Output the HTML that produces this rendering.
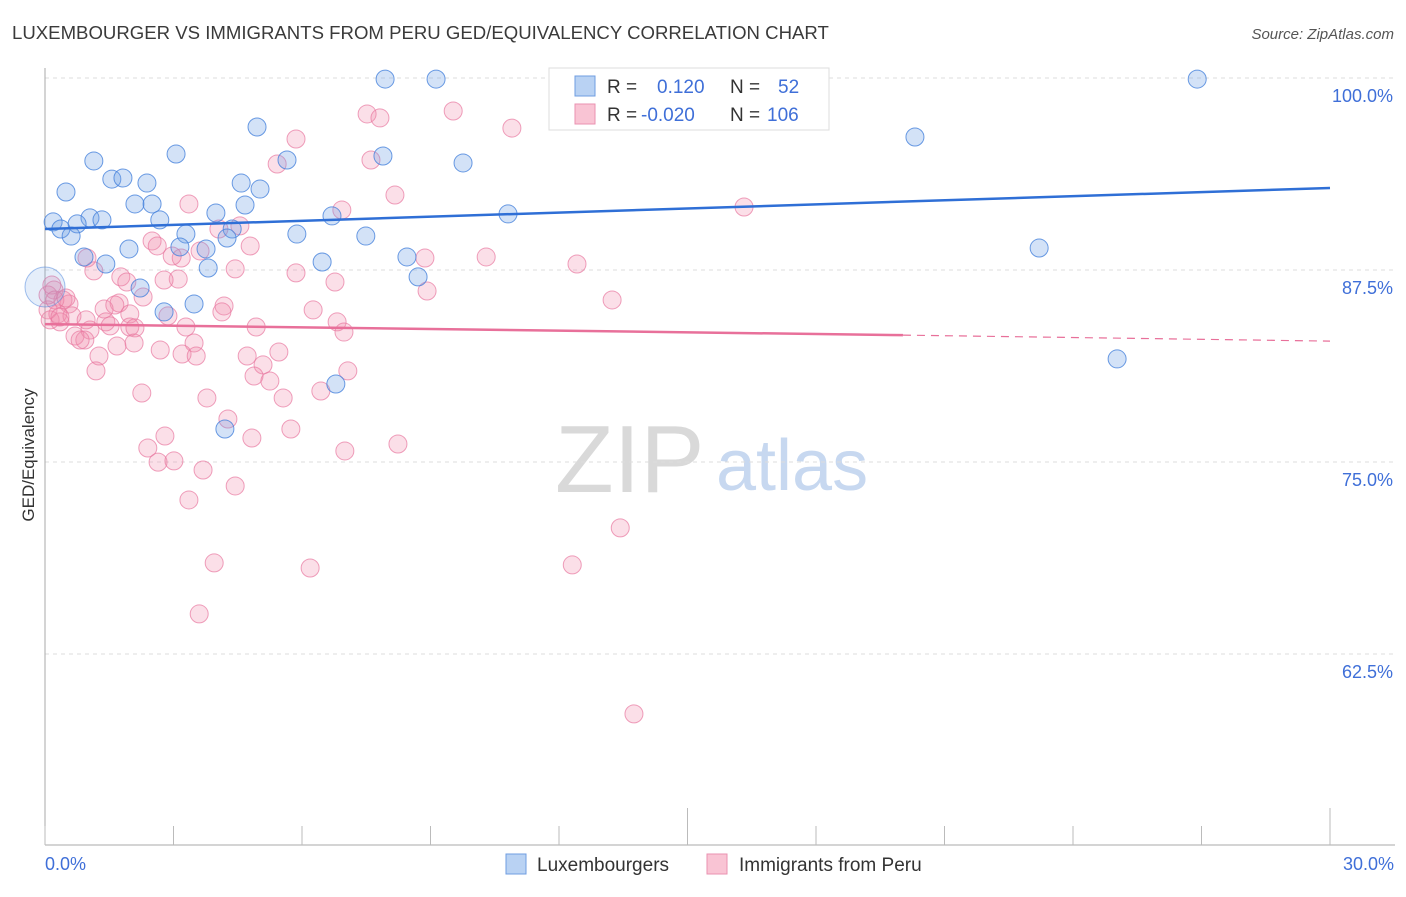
<!DOCTYPE html>
<html><head><meta charset="utf-8"><style>
body{margin:0;background:#fff;font-family:"Liberation Sans",sans-serif;}
svg text{font-family:"Liberation Sans",sans-serif;}
</style></head><body>
<svg id="chart" width="1406" height="892" xmlns="http://www.w3.org/2000/svg">
<text x="12" y="39" font-size="18.6" fill="#3a3a3a">LUXEMBOURGER VS IMMIGRANTS FROM PERU GED/EQUIVALENCY CORRELATION CHART</text>
<text x="1394" y="39" font-size="15" fill="#555" font-style="italic" text-anchor="end">Source: ZipAtlas.com</text>
<g>
<text x="555" y="492" font-size="96" fill="#d9d9d9" font-family="Liberation Serif, serif">ZIP</text>
<text x="716" y="490" font-size="72" fill="#c7d8f0">atlas</text>
</g>
<g id="grid"></g>
<g id="axes"></g>
<g id="pts"></g>
<g id="trends"></g>
<text transform="translate(34,455) rotate(-90)" font-size="17" fill="#333" text-anchor="middle">GED/Equivalency</text>
<g>
<rect x="549" y="68" width="280" height="62" fill="#fff" stroke="#ddd"/>
<rect x="575" y="76" width="20" height="20" fill="#b9d2f3" stroke="#6f9de0"/>
<rect x="575" y="104" width="20" height="20" fill="#f9c4d4" stroke="#ea92b0"/>
<text x="607" y="93" font-size="19" fill="#333">R =</text>
<text x="657" y="93" font-size="19" fill="#3f6fd8">0.120</text>
<text x="730" y="93" font-size="19" fill="#333">N =</text>
<text x="778" y="93" font-size="19" fill="#3f6fd8">52</text>
<text x="607" y="121" font-size="19" fill="#333">R =</text>
<text x="641" y="121" font-size="19" fill="#3f6fd8">-0.020</text>
<text x="730" y="121" font-size="19" fill="#333">N =</text>
<text x="767" y="121" font-size="19" fill="#3f6fd8">106</text>
</g>
<g>
<rect x="506" y="854" width="20" height="20" fill="#b9d2f3" stroke="#6f9de0"/>
<text x="537" y="871" font-size="19" fill="#333">Luxembourgers</text>
<rect x="707" y="854" width="20" height="20" fill="#f9c4d4" stroke="#ea92b0"/>
<text x="739" y="871" font-size="19" fill="#333">Immigrants from Peru</text>
</g>
</svg>
<script>
const yTicks=[100,87.5,75,62.5];
const yTickLabels=["100.0%","87.5%","75.0%","62.5%"];
const xTickValues=[0,3,6,9,12,15,18,21,24,27,30];
const xLabels=["0.0%","30.0%"];
const luxX=[7.94,9.13,26.90,4.95,20.31,3.06,1.14,5.65,7.89,9.76,1.56,1.82,2.38,4.58,0.49,5.02,2.10,2.50,4.67,3.99,0.19,1.05,1.33,2.68,6.70,10.81,0.37,0.75,0.61,3.29,4.37,5.88,4.25,7.49,1.96,3.15,3.76,23.21,0.91,1.42,6.47,8.45,3.81,8.71,0,2.22,3.48,2.78,25.03,6.79,4.20];
const luxY=[99.93,99.93,99.93,96.81,96.16,95.05,94.60,94.66,94.92,94.47,93.42,93.49,93.16,93.16,92.58,92.77,91.80,91.80,91.73,91.21,90.63,90.89,90.76,90.76,91.02,91.15,90.17,90.50,89.71,89.84,90.17,89.84,89.58,89.71,88.87,89.0,88.87,88.93,88.35,87.89,88.02,88.35,87.63,87.05,86.39,86.33,85.29,84.77,81.71,80.08,77.15];
const peruX=[9.53,7.52,7.82,10.90,5.86,5.42,7.61,8.17,3.36,6.93,16.32,4.55,4.06,2.50,2.62,4.79,3.62,0.98,3.18,2.97,8.87,10.30,12.42,1.14,4.44,5.86,1.77,1.91,3.11,2.78,6.77,8.92,13.24,0.21,0.42,0.56,2.29,1.73,4.18,4.13,6.26,0.07,0.30,0.63,1.38,1.98,2.87,0.12,0.35,0.96,1.42,1.52,1.98,2.10,4.93,6.82,6.98,0.70,1.05,3.29,0.93,1.68,2.08,3.48,1.26,3.20,3.53,4.72,5.46,5.09,1.19,4.88,5.25,7.07,2.26,3.78,5.56,6.44,4.27,2.80,5.74,4.83,2.40,7.00,8.24,2.64,3.01,3.69,4.44,3.36,13.43,3.95,6.19,12.31,3.60,13.75,0.07,0.16,0.23,0.35,0.49,0.82,1.63,2.69];
const peruY=[97.85,97.66,97.40,96.74,96.03,94.40,94.66,92.38,91.80,91.41,91.60,90.37,90.17,89.39,89.06,89.06,88.74,88.28,88.28,88.41,88.28,88.35,87.89,87.44,87.57,87.31,87.05,86.72,86.91,86.85,86.72,86.13,85.55,86.20,85.55,85.29,85.74,85.35,85.16,84.77,84.90,84.90,84.64,84.51,84.96,84.64,84.51,84.25,84.12,84.25,84.12,83.86,83.79,83.73,83.79,84.12,83.46,83.20,83.59,83.79,82.94,82.55,82.75,82.75,81.90,82.03,81.90,81.90,82.16,81.32,80.93,80.60,80.27,80.93,79.49,79.17,79.17,79.62,77.80,76.69,77.15,76.56,75.91,75.72,76.17,74.99,75.07,74.48,73.44,72.53,70.71,68.43,68.10,68.30,65.11,58.60,85.87,86.52,85.55,84.44,85.68,82.94,85.22,82.29];
const luxTrend=[[0,90.17],[30,92.84]];
const peruTrendSolid=[[0,83.98],[20.03,83.26]];
const peruTrendDash=[[20.03,83.26],[30,82.87]];

const NS="http://www.w3.org/2000/svg";
function X(v){return 45+v/30*1285;}
function Y(v){return 78+(100-v)*15.36;}
function mk(tag,attrs,parent){const e=document.createElementNS(NS,tag);for(const k in attrs)e.setAttribute(k,attrs[k]);parent.appendChild(e);return e;}
const grid=document.getElementById('grid'),axes=document.getElementById('axes'),pts=document.getElementById('pts'),tr=document.getElementById('trends');
yTicks.forEach((t,i)=>{
  const l=mk('line',{x1:45,x2:1395,y1:Y(t),y2:Y(t),stroke:'#ddd','stroke-dasharray':'4,4'},grid);
  
  
  const tx=mk('text',{x:1393,y:Y(t)+24,'font-size':18,fill:'#3f6fd8','text-anchor':'end'},grid);
  tx.textContent=yTickLabels[i];
  
  
});
let a=mk('line',{x1:45,x2:45,y1:68,y2:845,stroke:'#aaa'},axes);


a=mk('line',{x1:45,x2:1395,y1:845,y2:845,stroke:'#aaa'},axes);


xTickValues.forEach((t,i)=>{
  const big=(t===15||t===30);
  const l=mk('line',{x1:X(t),x2:X(t),y1:big?808:826,y2:845,stroke:'#bbb'},axes);
  
  
});
[[0,'start',45],[30,'end',1394]].forEach((d,i)=>{
  const tx=mk('text',{x:d[2],y:870,'font-size':18,fill:'#3f6fd8','text-anchor':d[1]},axes);
  tx.textContent=xLabels[i];
  
  
});
peruX.forEach((v,i)=>{
  const c=mk('circle',{cx:X(v),cy:Y(peruY[i]),r:9,fill:'rgba(242,140,172,0.28)',stroke:'rgba(232,120,160,0.7)','stroke-width':1},pts);
  
  
});
luxX.forEach((v,i)=>{
  const big=(v===0);
  const c=mk('circle',{cx:X(v),cy:Y(luxY[i]),r:big?20:9,fill:big?'rgba(110,160,230,0.18)':'rgba(110,160,230,0.3)',stroke:big?'rgba(70,130,220,0.5)':'rgba(70,130,220,0.8)','stroke-width':1},pts);
  
  
});
let t=mk('line',{x1:X(luxTrend[0][0]),y1:Y(luxTrend[0][1]),x2:X(luxTrend[1][0]),y2:Y(luxTrend[1][1]),stroke:'#2f6fd6','stroke-width':2.5},tr);


t=mk('line',{x1:X(peruTrendSolid[0][0]),y1:Y(peruTrendSolid[0][1]),x2:X(peruTrendSolid[1][0]),y2:Y(peruTrendSolid[1][1]),stroke:'#e8709a','stroke-width':2.5},tr);


t=mk('line',{x1:X(peruTrendDash[0][0]),y1:Y(peruTrendDash[0][1]),x2:X(peruTrendDash[1][0]),y2:Y(peruTrendDash[1][1]),stroke:'#e8709a','stroke-width':1.2,'stroke-dasharray':'8,6'},tr);


</script>
</body></html>
